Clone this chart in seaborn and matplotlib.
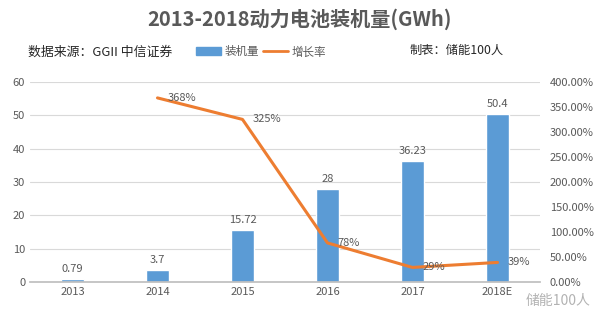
import matplotlib
matplotlib.use("Agg")
import matplotlib.pyplot as plt
import seaborn as sns
import pandas as pd
from matplotlib.patches import Patch
from matplotlib.lines import Line2D

years = ["2013", "2014", "2015", "2016", "2017", "2018E"]
capacity = [0.79, 3.7, 15.72, 28, 36.23, 50.4]
capacity_labels = ["0.79", "3.7", "15.72", "28", "36.23", "50.4"]
growth = [None, 368, 325, 78, 29, 39]
growth_labels = ["", "368%", "325%", "78%", "29%", "39%"]
left_ticks = [0, 10, 20, 30, 40, 50, 60]
right_ticks = [0, 50, 100, 150, 200, 250, 300, 350, 400]

sns.set_theme(style="white")
plt.rcParams['font.family'] = ['Noto Sans CJK SC', 'DejaVu Sans']

BLUE = "#5B9BD5"
ORANGE = "#ED7D31"
TXT = "#595959"

fig = plt.figure(figsize=(6, 3.15), dpi=100)
ax = fig.add_axes([0.05, 0.105, 0.85, 0.635])

df = pd.DataFrame({"year": years, "cap": capacity})
sns.barplot(data=df, x="year", y="cap", color=BLUE, width=0.28, ax=ax,
            saturation=1)
ax.set_ylim(0, 60)
ax.set_yticks(left_ticks)
ax.set_xlabel("")
ax.set_ylabel("")
ax.yaxis.grid(True, color="#D9D9D9", linewidth=0.8)
ax.set_axisbelow(True)
for s in ["top", "right", "left"]:
    ax.spines[s].set_visible(False)
ax.spines["bottom"].set_color("#BFBFBF")
ax.tick_params(axis="both", length=0, labelsize=8, colors=TXT)
for i, (v, lab) in enumerate(zip(capacity, capacity_labels)):
    ax.text(i, v + 1.5, lab, ha="center", va="bottom", fontsize=8, color=TXT)

ax2 = ax.twinx()
gdf = pd.DataFrame({"x": list(range(1, 6)), "g": growth[1:]})
sns.lineplot(data=gdf, x="x", y="g", color=ORANGE, linewidth=2.2, ax=ax2)
ax2.set_ylim(0, 400)
ax2.set_yticks(right_ticks)
ax2.set_yticklabels([f"{t:.2f}%" for t in right_ticks])
ax2.set_xlabel("")
ax2.set_ylabel("")
for s in ["top", "right", "left", "bottom"]:
    ax2.spines[s].set_visible(False)
ax2.tick_params(axis="y", length=0, labelsize=8, colors=TXT, pad=7)
ax.set_xlim(-0.5, 5.5)
for i in range(1, 6):
    ax2.text(i + 0.12, growth[i], growth_labels[i], ha="left", va="center",
             fontsize=8, color=TXT)

fig.text(0.5, 0.94, "2013-2018动力电池装机量(GWh)", ha="center", va="center",
         fontsize=14.5, fontweight="bold", color=TXT)
fig.text(0.047, 0.835, "数据来源：GGII 中信证券", ha="left", va="center",
         fontsize=9.3, color="#262626")
fig.text(0.84, 0.84, "制表：储能100人", ha="right", va="center",
         fontsize=8.8, color="#262626")
handles = [Patch(facecolor=BLUE, edgecolor=BLUE), Line2D([0], [0], color=ORANGE, lw=2)]
fig.legend(handles, ["装机量", "增长率"], loc="center", bbox_to_anchor=(0.435, 0.835),
           ncol=2, frameon=False, fontsize=8.3, handlelength=2.2, handletextpad=0.3,
           columnspacing=0.3, labelcolor=TXT)
fig.text(0.985, 0.045, "储能100人", ha="right", va="center", fontsize=10,
         color="#808080", alpha=0.6)

fig.savefig("out.png", dpi=100)
